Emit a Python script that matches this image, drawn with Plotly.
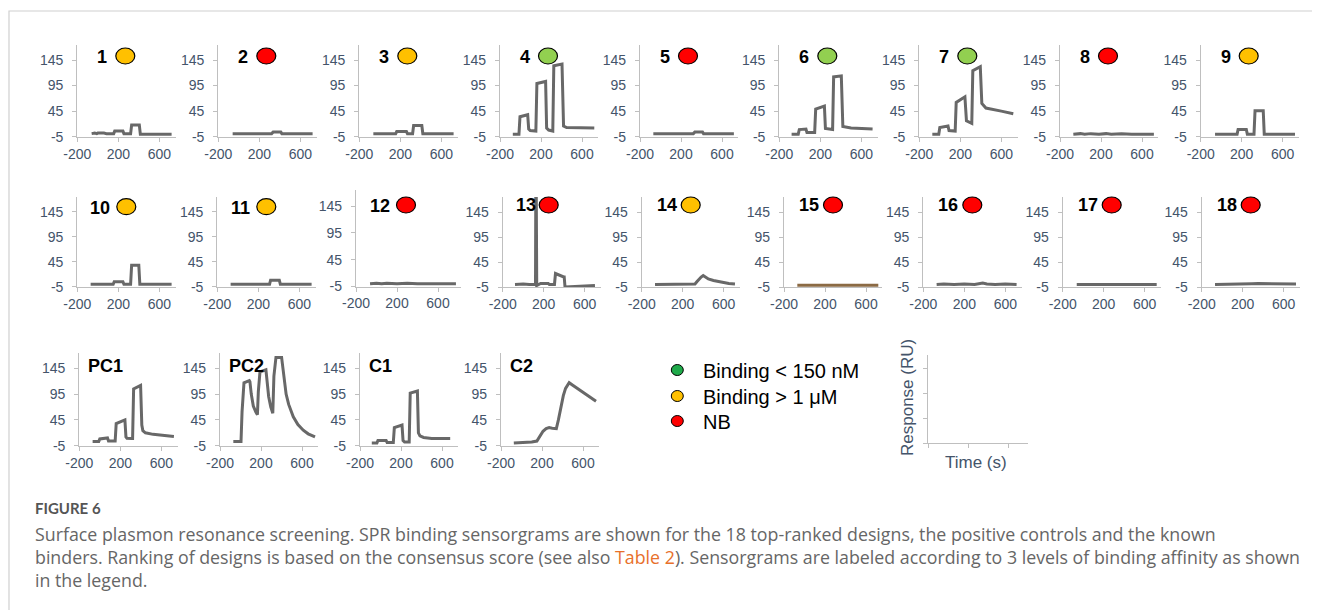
import plotly.graph_objects as go

W, H = 1320, 610
OFF = 8  # the page body adds an 8 px margin; positions below are screen pixels

# ---------------- data (time s, response RU) ----------------
T_1 = [-60, -30, -10, 0, 60, 75, 85, 155, 165, 245, 255, 320, 330, 405, 415, 500, 600, 720]
Y_1 = [1, 2, 1, 2, 2, 1, 1, 1, 6, 6, 1, 1, 18, 18, 0, 0, 0, 0]
T_2 = [-60, 100, 200, 320, 335, 410, 420, 720]
Y_2 = [1, 1, 1, 1, 4, 4, 1, 1]
T_3 = [-63, 155, 165, 260, 270, 320, 330, 410, 420, 720]
Y_3 = [1, 1, 5, 5, 1, 1, 17, 17, 1, 1]
T_4 = [-75, -15, -5, 70, 80, 95, 150, 160, 245, 255, 275, 315, 325, 405, 420, 450, 720]
Y_4 = [0, 0, 34, 38, 10, 7, 6, 99, 103, 12, 8, 6, 134, 137, 16, 13, 12]
T_5 = [-70, 320, 335, 410, 420, 716]
Y_5 = [1, 1, 4, 4, 1, 1]
T_6 = [-80, -15, -5, 60, 70, 145, 155, 240, 250, 320, 330, 405, 420, 500, 710]
Y_6 = [0, 0, 9, 10, 3, 3, 49, 55, 11, 9, 112, 114, 15, 12, 10]
T_7 = [-73, -10, 0, 80, 90, 150, 160, 245, 260, 300, 312, 322, 395, 410, 450, 600, 717]
Y_7 = [0, 0, 13, 16, 7, 6, 62, 73, 26, 21, 21, 124, 132, 60, 51, 45, 40]
T_8 = [-70, 0, 40, 100, 180, 250, 300, 400, 500, 716]
Y_8 = [0, 1, 0, 1, 0, 1, 0, 1, 0, 0]
T_9 = [-60, 155, 165, 245, 255, 320, 330, 410, 420, 720]
Y_9 = [0, 0, 9, 9, 0, 0, 46, 46, 0, 0]
T_10 = [-70, 150, 160, 245, 255, 320, 330, 400, 410, 720]
Y_10 = [0, 0, 5, 5, 0, 0, 38, 38, 0, 0]
T_11 = [-70, 310, 320, 405, 415, 720]
Y_11 = [0, 0, 8, 8, 0, 0]
T_12 = [-63, 0, 50, 100, 200, 300, 400, 500, 600, 775]
Y_12 = [0, 1, 0, 1, 0, 1, 0, 0, 0, 0]
T_13 = [-80, 0, 60, 120, 123, 127, 132, 170, 245, 255, 305, 315, 395, 400, 408, 490, 600, 700]
Y_13 = [0, 1, 0, 0, 200, 200, -2, 2, 2, 0, 0, 22, 15, 15, -5, -4.5, -2.5, -2]
T_14 = [-70, 100, 200, 320, 340, 360, 380, 400, 420, 450, 500, 550, 600, 650, 710]
Y_14 = [0, 0, 0.5, 1, 6, 11, 15, 18, 15, 11, 8, 5.5, 3.5, 2, 1]
T_15 = [-70, 100, 300, 500, 720]
Y_15 = [-1.5, -1.5, -1, -1.5, -1.5]
T_16 = [-70, 0, 100, 200, 300, 350, 380, 420, 500, 600, 710]
Y_16 = [0, 1, 0, 1, 0, 2, 3, 1, 0, 1, 0]
T_17 = [-63, 100, 150, 200, 300, 500, 717]
Y_17 = [0, 0, 1, 0, 0, 0, 0]
T_18 = [-70, 100, 200, 290, 350, 450, 500, 600, 720]
Y_18 = [0, 0, 0.5, 1.5, 2, 2, 1, 1, 1]
T_PC1 = [-70, -10, 0, 75, 85, 150, 160, 245, 255, 265, 310, 320, 330, 398, 410, 420, 445, 520, 723]
Y_PC1 = [3, 3, 8, 10, 4, 4, 38, 45, 12, 9.5, 9, 9, 105, 112, 35, 24, 20, 17, 13]
T_PC2 = [-70, 5, 15, 34, 86, 92, 105, 125, 150, 165, 174, 190, 248, 258, 275, 295, 315,
         326, 346, 401, 410, 425, 445, 470, 515, 560, 612, 660, 727]
Y_PC2 = [3, 3, 60, 117, 121, 119, 95, 72, 60, 55, 100, 138, 142, 120, 90, 70, 58,
         130, 166, 166, 150, 118, 95, 75, 51, 36, 25, 18, 12]
T_C1 = [-85, -35, -25, 55, 65, 125, 135, 210, 220, 235, 280, 290, 360, 370, 385, 420, 500, 680]
Y_C1 = [0, 0, 5, 5, 1, 1, 30, 35, 5, 2, 2, 97, 101, 20, 14, 11, 9, 9]
T_C2 = [-75, 0, 100, 150, 180, 210, 240, 270, 300, 340, 360, 385, 408, 430, 450, 465,
        500, 560, 640, 727]
Y_C2 = [0, 0.5, 2, 4, 14, 23, 28, 30, 29, 28, 45, 70, 92, 106, 114, 117, 112, 104, 92, 81]

NAMES = ["1", "2", "3", "4", "5", "6", "7", "8", "9",
         "10", "11", "12", "13", "14", "15", "16", "17", "18",
         "PC1", "PC2", "C1", "C2"]
CLASSES = ["mid", "nb", "mid", "strong", "nb", "strong", "strong", "nb", "mid",
           "mid", "mid", "nb", "nb", "mid", "nb", "nb", "nb", "nb",
           None, None, None, None]
SERIES_T = [T_1, T_2, T_3, T_4, T_5, T_6, T_7, T_8, T_9, T_10, T_11, T_12, T_13, T_14,
            T_15, T_16, T_17, T_18, T_PC1, T_PC2, T_C1, T_C2]
SERIES_Y = [Y_1, Y_2, Y_3, Y_4, Y_5, Y_6, Y_7, Y_8, Y_9, Y_10, Y_11, Y_12, Y_13, Y_14,
            Y_15, Y_16, Y_17, Y_18, Y_PC1, Y_PC2, Y_C1, Y_C2]

Y_TICKS = [-5, 45, 95, 145]
X_TICKS = [-200, 200, 600]
LEGEND_LABELS = ["Binding < 150 nM", "Binding > 1 \u03bcM", "NB"]
CAPTION_HEAD = "FIGURE 6"
CAPTION_1 = ("Surface plasmon resonance screening. SPR binding sensorgrams are shown for the 18 "
             "top-ranked designs, the positive controls and the known")
CAPTION_2A = "binders. Ranking of designs is based on the consensus score (see also "
CAPTION_2B = "Table 2"
CAPTION_2C = "). Sensorgrams are labeled according to 3 levels of binding affinity as shown"
CAPTION_3 = "in the legend."

# ---------------- styling / geometry ----------------
CLASS_COLOR = {"strong": "#92d050", "mid": "#ffc000", "nb": "#ff0000"}
LEGEND_COLOR = ["#1faa4a", "#ffc000", "#ff0000"]
LINE_COLOR = "#686868"
AXIS_COLOR = "#bfbfbf"
TICK_FONT = dict(family="Liberation Sans, Arial, sans-serif", size=14, color="#44546a")
PXU = 0.1025  # px per second

row1_x = [77.3, 218.3, 359.3, 500, 640, 779.3, 919.3, 1060, 1200.7]
row2_x = [77.3, 217.3, 356, 502.7, 641.7, 784, 923.3, 1062.7, 1201.7]
row3_x = [79.3, 220, 360, 501]

geom = []  # (axis_x, y_bottom, y_top, x_max, label_x, label_y, circ_x, circ_y)
for i, ax in enumerate(row1_x):
    geom.append((ax, 136.7, 44.7, 760, ax + 25, 56.7, ax + 48, 56))
for i, ax in enumerate(row2_x):
    if i == 2:
        geom.append((ax, 286.5, 190, 820, ax + 24, 206, ax + 50, 205))
    elif i == 0 or i == 1:
        geom.append((ax, 286.7, 196.7, 760, ax + 23, 208.3, ax + 49, 206.7))
    else:
        geom.append((ax, 287, 197, 760, ax + 23 if i in (3,) else ax + 25, 205.5,
                     ax + 46 if i == 3 else ax + 49, 205))
for ax in row3_x:
    geom.append((ax, 445.7, 352.8, 760, ax + 7, 366, None, None))

fig = go.Figure()
layout = dict(
    template="none",
    width=W, height=H, margin=dict(l=0, r=0, t=0, b=0, pad=0, autoexpand=False),
    autosize=False,
    paper_bgcolor="white", plot_bgcolor="white", showlegend=False,
    annotations=[], shapes=[],
)


def px(x):
    return (x - OFF) / W


def py(y):
    return 1 - (y - OFF) / H


for k, (name, cls, t, y, g) in enumerate(zip(NAMES, CLASSES, SERIES_T, SERIES_Y, geom), start=1):
    ax, yb, yt, xmax, lx, ly, cx, cy = g
    sfx = "" if k == 1 else str(k)
    color = "#8b6a44" if name == "15" else LINE_COLOR
    fig.add_trace(go.Scatter(x=t, y=y, mode="lines", xaxis="x" + sfx, yaxis="y" + sfx,
                             line=dict(color=color, width=3), hoverinfo="skip"))
    width = (xmax + 200) * PXU
    layout["xaxis" + sfx] = dict(
        domain=[px(ax), px(ax + width)], range=[-200, xmax], anchor="y" + sfx,
        tickvals=X_TICKS, ticktext=[str(v) for v in X_TICKS], showline=True,
        linecolor=AXIS_COLOR, linewidth=1.3, ticks="outside", ticklen=4, tickcolor=AXIS_COLOR,
        showgrid=False, zeroline=False, tickfont=TICK_FONT, fixedrange=True, automargin=False)
    layout["yaxis" + sfx] = dict(
        domain=[py(yb), py(yt)], range=[-5, 175], anchor="x" + sfx,
        tickvals=Y_TICKS, ticktext=[str(v) for v in Y_TICKS], showline=True,
        linecolor=AXIS_COLOR, linewidth=1.3, ticks="outside", ticklen=4, tickcolor=AXIS_COLOR,
        showgrid=False, zeroline=False, tickfont=TICK_FONT, fixedrange=True,
        ticklabelstandoff=6, automargin=False)
    if cls is not None:
        layout["annotations"].append(dict(
            x=px(lx), y=py(ly), xref="paper", yref="paper", text="<b>%s</b>" % name,
            showarrow=False, xanchor="center", yanchor="middle",
            font=dict(family="Liberation Sans, Arial, sans-serif", size=18, color="black")))
        layout["shapes"].append(dict(
            type="circle", xref="paper", yref="paper",
            x0=px(cx - 9.5), x1=px(cx + 9.5), y0=py(cy + 8), y1=py(cy - 8),
            fillcolor=CLASS_COLOR[cls], line=dict(color="black", width=1.2)))
    else:
        layout["annotations"].append(dict(
            x=px(lx), y=py(ly), xref="paper", yref="paper", text="<b>%s</b>" % name,
            showarrow=False, xanchor="left", yanchor="middle",
            font=dict(family="Liberation Sans, Arial, sans-serif", size=18, color="black")))

# ---------------- legend ----------------
for i, (lab, col) in enumerate(zip(LEGEND_LABELS, LEGEND_COLOR)):
    yy = [370, 396, 421][i]
    layout["shapes"].append(dict(
        type="circle", xref="paper", yref="paper",
        x0=px(677.3 - 6), x1=px(677.3 + 6), y0=py(yy + 5.5), y1=py(yy - 5.5),
        fillcolor=col, line=dict(color="black", width=1)))
    layout["annotations"].append(dict(
        x=px(701), y=py(yy + 1), xref="paper", yref="paper", text=lab, showarrow=False,
        xanchor="left", yanchor="middle",
        font=dict(family="Liberation Sans, Arial, sans-serif", size=20, color="black")))

# ---------------- inset axes (Response vs Time) ----------------
k = len(NAMES) + 1
sfx = str(k)
fig.add_trace(go.Scatter(x=[], y=[], xaxis="x" + sfx, yaxis="y" + sfx, mode="lines"))
layout["xaxis" + sfx] = dict(
    domain=[px(928.3), px(1028.3)], range=[0, 2.5], anchor="y" + sfx, tickvals=[0, 1, 2],
    showticklabels=False, showline=True, linecolor=AXIS_COLOR, linewidth=1.3, ticks="outside",
    ticklen=4, tickcolor=AXIS_COLOR, showgrid=False, zeroline=False, fixedrange=True,
    automargin=False)
layout["yaxis" + sfx] = dict(
    domain=[py(443.3), py(355)], range=[0, 3.53], anchor="x" + sfx, tickvals=[0, 1, 2, 3],
    showticklabels=False, showline=True, linecolor=AXIS_COLOR, linewidth=1.3, ticks="outside",
    ticklen=4, tickcolor=AXIS_COLOR, showgrid=False, zeroline=False, fixedrange=True,
    automargin=False)
layout["annotations"].append(dict(
    x=px(907), y=py(398), xref="paper", yref="paper", text="Response (RU)", textangle=-90,
    showarrow=False, xanchor="center", yanchor="middle",
    font=dict(family="Liberation Sans, Arial, sans-serif", size=17, color="#44546a")))
layout["annotations"].append(dict(
    x=px(976), y=py(462), xref="paper", yref="paper", text="Time (s)",
    showarrow=False, xanchor="center", yanchor="middle",
    font=dict(family="Liberation Sans, Arial, sans-serif", size=17, color="#44546a")))

# ---------------- caption ----------------
CAP_FONT = dict(family="Open Sans, Lato, sans-serif", size=17.8, color="#666666")
layout["annotations"].append(dict(
    x=px(33), y=py(508), xref="paper", yref="paper", text="<b>%s</b>" % CAPTION_HEAD,
    showarrow=False, xanchor="left", yanchor="middle",
    font=dict(family="Lato, Open Sans, sans-serif", size=15, color="#555555")))
caps = [CAPTION_1,
        CAPTION_2A + '<span style="color:#e8702a">' + CAPTION_2B + "</span>" + CAPTION_2C,
        CAPTION_3]
for i, c in enumerate(caps):
    layout["annotations"].append(dict(
        x=px(33), y=py([534, 557, 580][i]), xref="paper", yref="paper", text=c,
        showarrow=False, xanchor="left", yanchor="middle", font=CAP_FONT))

# ---------------- frame ----------------
layout["shapes"].append(dict(
    type="rect", xref="paper", yref="paper", x0=px(9), x1=px(1340), y0=py(640), y1=py(11),
    line=dict(color="#d0d0d0", width=1.2), fillcolor="rgba(0,0,0,0)", layer="below"))

fig.update_layout(**layout)
fig.write_html("out.html")
